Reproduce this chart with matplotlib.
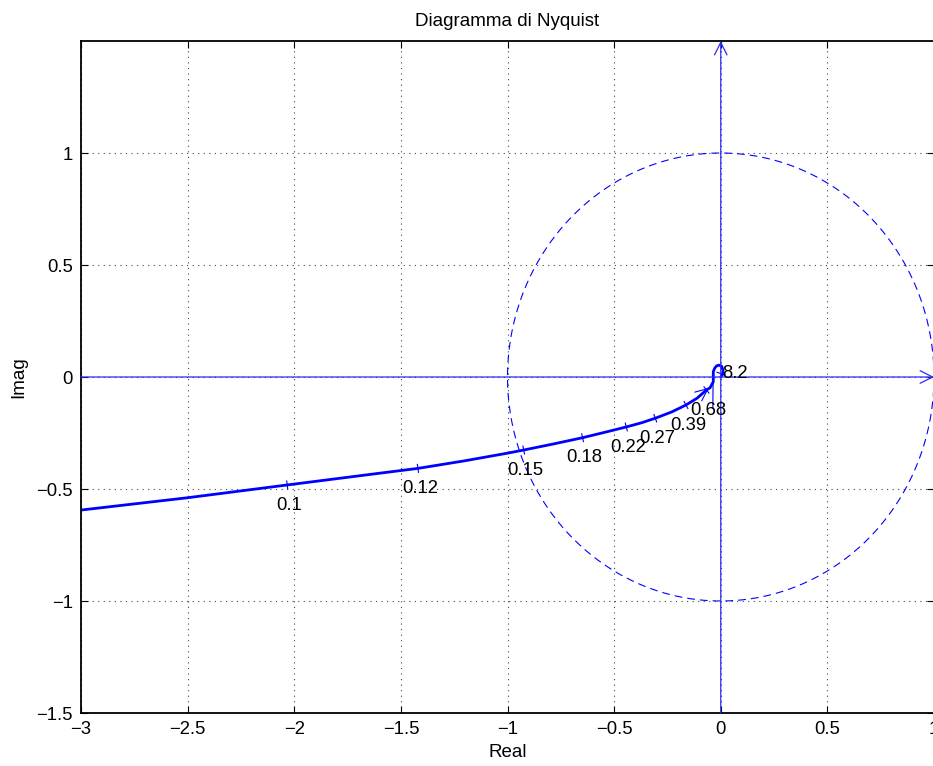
import numpy as np
import matplotlib
matplotlib.use("Agg")
import matplotlib.pyplot as plt

# ---- data ----
curve_re = [-3.0, -2.5, -2.033, -1.587, -1.42, -1.2, -1.0, -0.924, -0.78, -0.648,
            -0.54, -0.443, -0.37, -0.307, -0.23, -0.163, -0.11, -0.067, -0.050,
            -0.035, -0.035, -0.028, -0.019, -0.008, 0.005, 0.011, 0.008, 0.0]
curve_im = [-0.594, -0.539, -0.482, -0.428, -0.408, -0.374, -0.340, -0.326, -0.298,
            -0.271, -0.246, -0.223, -0.204, -0.184, -0.156, -0.125, -0.094, -0.058,
            -0.048, -0.021, 0.024, 0.040, 0.050, 0.053, 0.047, 0.028, 0.012, 0.0]

freq_labels = ["0.1", "0.12", "0.15", "0.18", "0.22", "0.27", "0.39", "0.68", "8.2"]
freq_re = [-2.033, -1.42, -0.924, -0.648, -0.443, -0.307, -0.163, -0.067, 0.0]
freq_im = [-0.482, -0.408, -0.326, -0.271, -0.223, -0.184, -0.125, -0.058, 0.015]

# thin marker line below the loop
stem_re = [-0.036, -0.037]
stem_im = [-0.027, -0.138]

circle_theta = np.linspace(0, 2 * np.pi, 400)

xticks = [-3, -2.5, -2, -1.5, -1, -0.5, 0, 0.5, 1]
yticks = [-1.5, -1, -0.5, 0, 0.5, 1]
xlim = (-3, 1)
ylim = (-1.5, 1.5)

title = "Diagramma di Nyquist"
xlabel = "Real"
ylabel = "Imag"

# ---- figure ----
plt.rcParams['font.family'] = ['Liberation Sans', 'DejaVu Sans']
W, H = 933, 766
fig = plt.figure(figsize=(W / 100, H / 100), dpi=100)
ax = fig.add_axes([81 / W, 53 / H, 853 / W, 672 / H])
ax.set_xlim(*xlim)
ax.set_ylim(*ylim)
ax.set_xticks(xticks)
ax.set_yticks(yticks)
ax.set_xticklabels([f"{t:g}".replace("-", "\u2212") for t in xticks])
ax.set_yticklabels([f"{t:g}".replace("-", "\u2212") for t in yticks])
ax.tick_params(direction='in', length=5, width=0.8, top=True, right=True,
               labelsize=13.3, pad=6, colors='black')
for s in ax.spines.values():
    s.set_linewidth(1.3)
ax.grid(True, color='#444444', linestyle=(0, (1, 4)), linewidth=0.8)

ax.set_title(title, fontsize=13.5, pad=11)
ax.set_xlabel(xlabel, fontsize=13.5, labelpad=4)
ax.set_ylabel(ylabel, fontsize=13.5, labelpad=6)

axis_col = '#2a2aff'
# real and imaginary axes with arrowheads
ax.annotate('', xy=(0, ylim[1]), xytext=(0, ylim[0]),
            arrowprops=dict(arrowstyle='->,head_length=0.9,head_width=0.45',
                            color=axis_col, lw=0.9, shrinkA=0, shrinkB=0),
            annotation_clip=False)
ax.annotate('', xy=(xlim[1], 0), xytext=(xlim[0], 0),
            arrowprops=dict(arrowstyle='->,head_length=0.9,head_width=0.45',
                            color=axis_col, lw=0.9, shrinkA=0, shrinkB=0),
            annotation_clip=False)

# unit circle
ax.plot(np.cos(circle_theta), np.sin(circle_theta), color='#0000ff',
        linestyle=(0, (7, 4.5)), linewidth=0.8)

# Nyquist curve
ax.plot(curve_re, curve_im, color='#0000ff', linewidth=2.0, solid_capstyle='round')
ax.plot(stem_re, stem_im, color='#0000ff', linewidth=0.8)

# frequency tick marks and labels
fig.canvas.draw()
T = ax.transData
cx = np.array(curve_re)
cy = np.array(curve_im)
pix = T.transform(np.column_stack([cx, cy]))
for lab, fr, fi in zip(freq_labels, freq_re, freq_im):
    p = T.transform((fr, fi))
    d = np.hypot(pix[:, 0] - p[0], pix[:, 1] - p[1])
    i = int(np.argmin(d))
    i0, i1 = max(i - 1, 0), min(i + 1, len(pix) - 1)
    tvec = pix[i1] - pix[i0]
    tvec = tvec / np.hypot(*tvec)
    nvec = np.array([-tvec[1], tvec[0]])
    a = T.inverted().transform(p + 4 * nvec)
    b = T.inverted().transform(p - 4 * nvec)
    ax.plot([a[0], b[0]], [a[1], b[1]], color='#0000ff', linewidth=0.8)
    if lab == "8.2":
        ax.annotate(lab, (fr, fi), xytext=(0.8, 0), textcoords='offset points',
                    ha='left', va='center', fontsize=13.3)
    else:
        ax.annotate(lab, (fr, fi), xytext=(1.5, -14.5), textcoords='offset points',
                    ha='center', va='center', fontsize=13.3)

# direction arrow on the curve
ax.annotate('', xy=(freq_re[7] + 0.012, freq_im[7] + 0.01),
            xytext=(freq_re[7] - 0.04, freq_im[7] - 0.03),
            arrowprops=dict(arrowstyle='->,head_length=0.9,head_width=0.4',
                            color='#0000ff', lw=0.8, shrinkA=0, shrinkB=0))

fig.savefig("out.png", dpi=100)
